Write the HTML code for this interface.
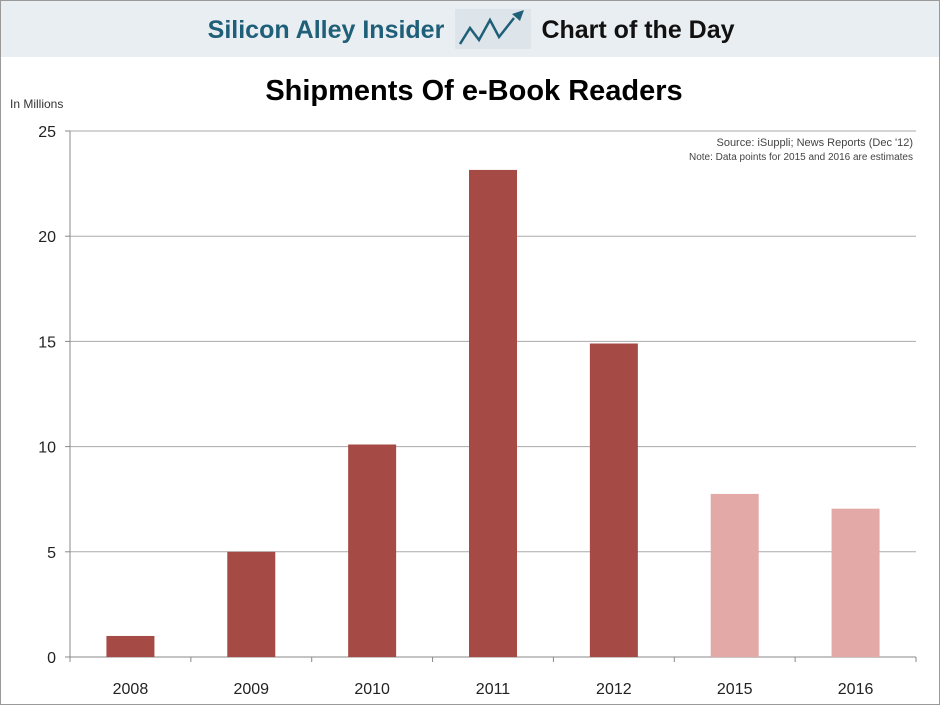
<!DOCTYPE html>
<html><head><meta charset="utf-8"><style>
body{margin:0;width:940px;height:705px;overflow:hidden;background:#fff;font-family:"Liberation Sans",sans-serif;}
#frame{position:absolute;left:0;top:0;width:938px;height:703px;border:1px solid #999;}
#hdr{position:absolute;left:1px;top:1px;width:938px;height:56px;background:#e9eef2;}
</style></head><body>
<div id="frame"></div>
<div id="hdr"></div>
<svg width="940" height="705" style="position:absolute;left:0;top:0" id="chart">
<text x="326" y="38" font-size="25" font-weight="bold" fill="#1f5f78" text-anchor="middle">Silicon Alley Insider</text>
<g>
<rect x="455" y="9" width="76" height="40" fill="#dde5ea"/>
<polyline points="460,44 470,28 479,40 490,20 499,37 514,18" fill="none" stroke="#1f5f78" stroke-width="2.5"/>
<polygon points="524,10 512,14 520,21" fill="#1f5f78"/>
</g>
<text x="638" y="38" font-size="25" font-weight="bold" fill="#111" text-anchor="middle">Chart of the Day</text>
<text x="474" y="100" font-size="29" font-weight="bold" fill="#000" text-anchor="middle">Shipments Of e-Book Readers</text>
<text x="10" y="108" font-size="12" fill="#333">In Millions</text>
<text x="913" y="146" font-size="11" fill="#444" text-anchor="end">Source: iSuppli; News Reports (Dec '12)</text>
<text x="913" y="160" font-size="10" fill="#444" text-anchor="end">Note: Data points for 2015 and 2016 are estimates</text>
<g id="grid"></g><g id="bars"></g><g id="axes"></g>
</svg>
<script>
const categories=["2008","2009","2010","2011","2012","2015","2016"];
const values=[1.0,5.0,10.1,23.15,14.9,7.75,7.05];
const estimated=[false,false,false,false,false,true,true];
const yTicks=[0,5,10,15,20,25];
const NS="http://www.w3.org/2000/svg";
const x0=70,x1=916,yB=657,yT=131,yMax=25;
const y=v=>yB-(v/yMax)*(yB-yT);
const band=(x1-x0)/categories.length;
const xc=i=>x0+band*(i+0.5);
function mk(t,a,p){const e=document.createElementNS(NS,t);for(const k in a)e.setAttribute(k,a[k]);p.appendChild(e);return e;}
const grid=document.getElementById('grid'),bars=document.getElementById('bars'),axes=document.getElementById('axes');
yTicks.forEach(t=>{
 const l=mk('line',{x1:x0,x2:x1,y1:y(t),y2:y(t),stroke:t===0?'#888':'#aaa','stroke-width':1},grid);
 
 
 const tx=mk('text',{x:56,y:y(t)+6,'font-size':16,'text-anchor':'end',fill:'#222'},axes);
 tx.textContent=t;
 
 
 const tk=mk('line',{x1:x0-5,x2:x0,y1:y(t),y2:y(t),stroke:'#888'},axes);
 
 
});
const ax=mk('line',{x1:x0,x2:x0,y1:yT,y2:yB+5,stroke:'#888'},axes);


categories.forEach((c,i)=>{
 const w=48;
 const r=mk('rect',{x:xc(i)-w/2,y:y(values[i]),width:w,height:yB-y(values[i]),fill:estimated[i]?'#e3a9a6':'#a64a45'},bars);
 
 
 const t=mk('text',{x:xc(i),y:694,'font-size':16,'text-anchor':'middle',fill:'#222'},axes);
 t.textContent=c;
 
 
 const tk=mk('line',{x1:x0+band*(i+1),x2:x0+band*(i+1),y1:yB,y2:yB+5,stroke:'#888'},axes);
 
 
});
</script>
</body></html>
